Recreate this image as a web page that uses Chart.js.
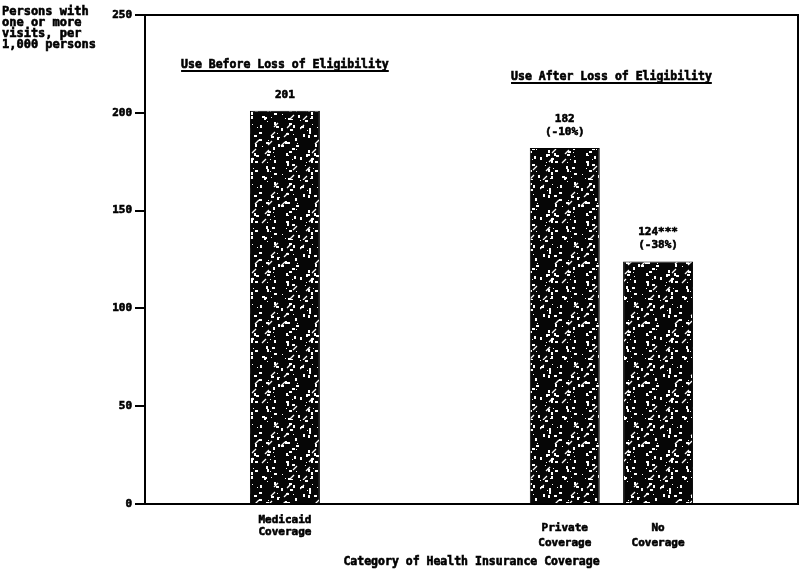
<!DOCTYPE html>
<html><head><meta charset="utf-8">
<script src="https://cdn.jsdelivr.net/npm/chart.js@4"></script>
<style>html,body{margin:0;padding:0;background:#fff}#wrap{width:800px;height:573px}</style>
</head><body><div id="wrap"><canvas id="c" width="800" height="573"></canvas></div>
<script>
// ---- data ----
const categories = ["", "Medicaid Coverage", "", "", "Private Coverage", "No Coverage", ""];
const categoryLines = [[], ["Medicaid", "Coverage"], [], [], ["Private", "Coverage"], ["No", "Coverage"], []];
const values = [null, 201, null, null, 182, 124, null];
const valueLabels = [[], ["201"], [], [], ["182", "(-10%)"], ["124***", "(-38%)"], []];
const yTicks = [0, 50, 100, 150, 200, 250];
const groupTitles = ["Use Before Loss of Eligibility", "Use After Loss of Eligibility"];
const groupMembers = [[1], [4, 5]];
const yTitle = ["Persons with", "one or more", "visits, per", "1,000 persons"];
const xTitle = "Category of Health Insurance Coverage";

const FONT = '"DejaVu Sans Mono", "Liberation Mono", monospace';

function makePattern() {
  const c = document.createElement('canvas');
  c.width = 60; c.height = 60;
  const g = c.getContext('2d');
  g.fillStyle = '#060606';
  g.fillRect(0, 0, 60, 60);
  g.fillStyle = '#ffffff';
  for (let i = 0; i < 95; i++) {
    const x = (i * 53 + (i * i) % 23) % 60;
    const y = (i * 29 + (i * 7) % 13) % 60;
    const w = 1 + (i % 3);
    const h = 1 + ((i * 5) % 3);
    g.fillRect(x, y, w, h);
  }
  g.strokeStyle = '#ffffff';
  g.lineWidth = 1.2;
  for (let i = 0; i < 16; i++) {
    const x = (i * 41) % 60, y = (i * 17 + 5) % 60;
    g.beginPath(); g.moveTo(x, y + 4); g.lineTo(x + 4, y); g.stroke();
  }
  return g.createPattern(c, 'repeat');
}

function heavyText(ctx, t, x, y) {
  ctx.strokeText(t, x, y);
  ctx.fillText(t, x, y);
}

const annotate = {
  id: 'annotate',
  afterDraw(chart) {
    const ctx = chart.ctx, a = chart.chartArea;
    const xs = chart.scales.x;
    const meta = chart.getDatasetMeta(0);
    ctx.save();
    // frame top and right
    ctx.strokeStyle = '#000'; ctx.lineWidth = 2;
    ctx.beginPath();
    ctx.moveTo(a.left, a.top); ctx.lineTo(a.right, a.top); ctx.lineTo(a.right, a.bottom);
    ctx.stroke();

    ctx.fillStyle = '#000';
    ctx.strokeStyle = '#000';
    ctx.lineWidth = 0.6;
    ctx.textAlign = 'center'; ctx.textBaseline = 'middle';
    // value labels
    ctx.font = 'bold 11px ' + FONT;
    valueLabels.forEach((lines, i) => {
      if (!lines.length) return;
      const el = meta.data[i];
      const n = lines.length;
      lines.forEach((t, k) => {
        heavyText(ctx, t, el.x, el.y - 16 - (n - 1 - k) * 13);
      });
    });
    // category labels
    categoryLines.forEach((lines, i) => {
      if (!lines.length) return;
      const x = xs.getPixelForValue(i);
      const first = lines[0] === 'Medicaid' ? a.bottom + 16 : a.bottom + 24;
      const step = lines[0] === 'Medicaid' ? 12 : 15;
      lines.forEach((t, k) => heavyText(ctx, t, x, first + k * step));
    });
    // x title
    ctx.font = 'bold 11.5px ' + FONT;
    heavyText(ctx, xTitle, (a.left + a.right) / 2, 562);
    // group titles
    const gy = [65, 77];
    groupTitles.forEach((t, gi) => {
      const px = groupMembers[gi].map(i => xs.getPixelForValue(i));
      const cx = (Math.min(...px) + Math.max(...px)) / 2;
      ctx.lineWidth = 0.6;
      heavyText(ctx, t, cx, gy[gi]);
      const w = ctx.measureText(t).width;
      ctx.lineWidth = 2;
      ctx.beginPath(); ctx.moveTo(cx - w / 2, gy[gi] + 6); ctx.lineTo(cx + w / 2, gy[gi] + 6); ctx.stroke();
    });
    // y title
    ctx.lineWidth = 0.6;
    ctx.textAlign = 'left';
    ctx.font = 'bold 12px ' + FONT;
    yTitle.forEach((t, k) => heavyText(ctx, t, 2, 12 + k * 11));
    ctx.restore();
  }
};

new Chart(document.getElementById('c'), {
  type: 'bar',
  data: {
    labels: categories,
    datasets: [{
      data: values,
      backgroundColor: makePattern(),
      borderColor: '#000',
      borderWidth: 1,
      barPercentage: 0.75,
      categoryPercentage: 1.0
    }]
  },
  options: {
    responsive: false,
    animation: false,
    devicePixelRatio: 1,
    layout: { padding: { top: 15, right: 2, left: 0, bottom: 0 } },
    plugins: { legend: { display: false }, tooltip: { enabled: false } },
    scales: {
      x: {
        grid: { display: false },
        border: { display: true, color: '#000', width: 2 },
        ticks: { display: false },
        afterFit(s) { s.height = 69; }
      },
      y: {
        min: 0, max: 250,
        afterBuildTicks(s) { s.ticks = yTicks.map(v => ({ value: v })); },
        ticks: { color: '#000', font: { family: FONT, weight: 'bold', size: 11 }, padding: 3,
                 textStrokeColor: '#000', textStrokeWidth: 0.6 },
        grid: { drawOnChartArea: false, drawTicks: true, tickLength: 10, color: '#000', lineWidth: 2 },
        border: { display: true, color: '#000', width: 2 },
        afterFit(s) { s.width = 145; }
      }
    }
  },
  plugins: [annotate]
});
</script>
</body></html>
